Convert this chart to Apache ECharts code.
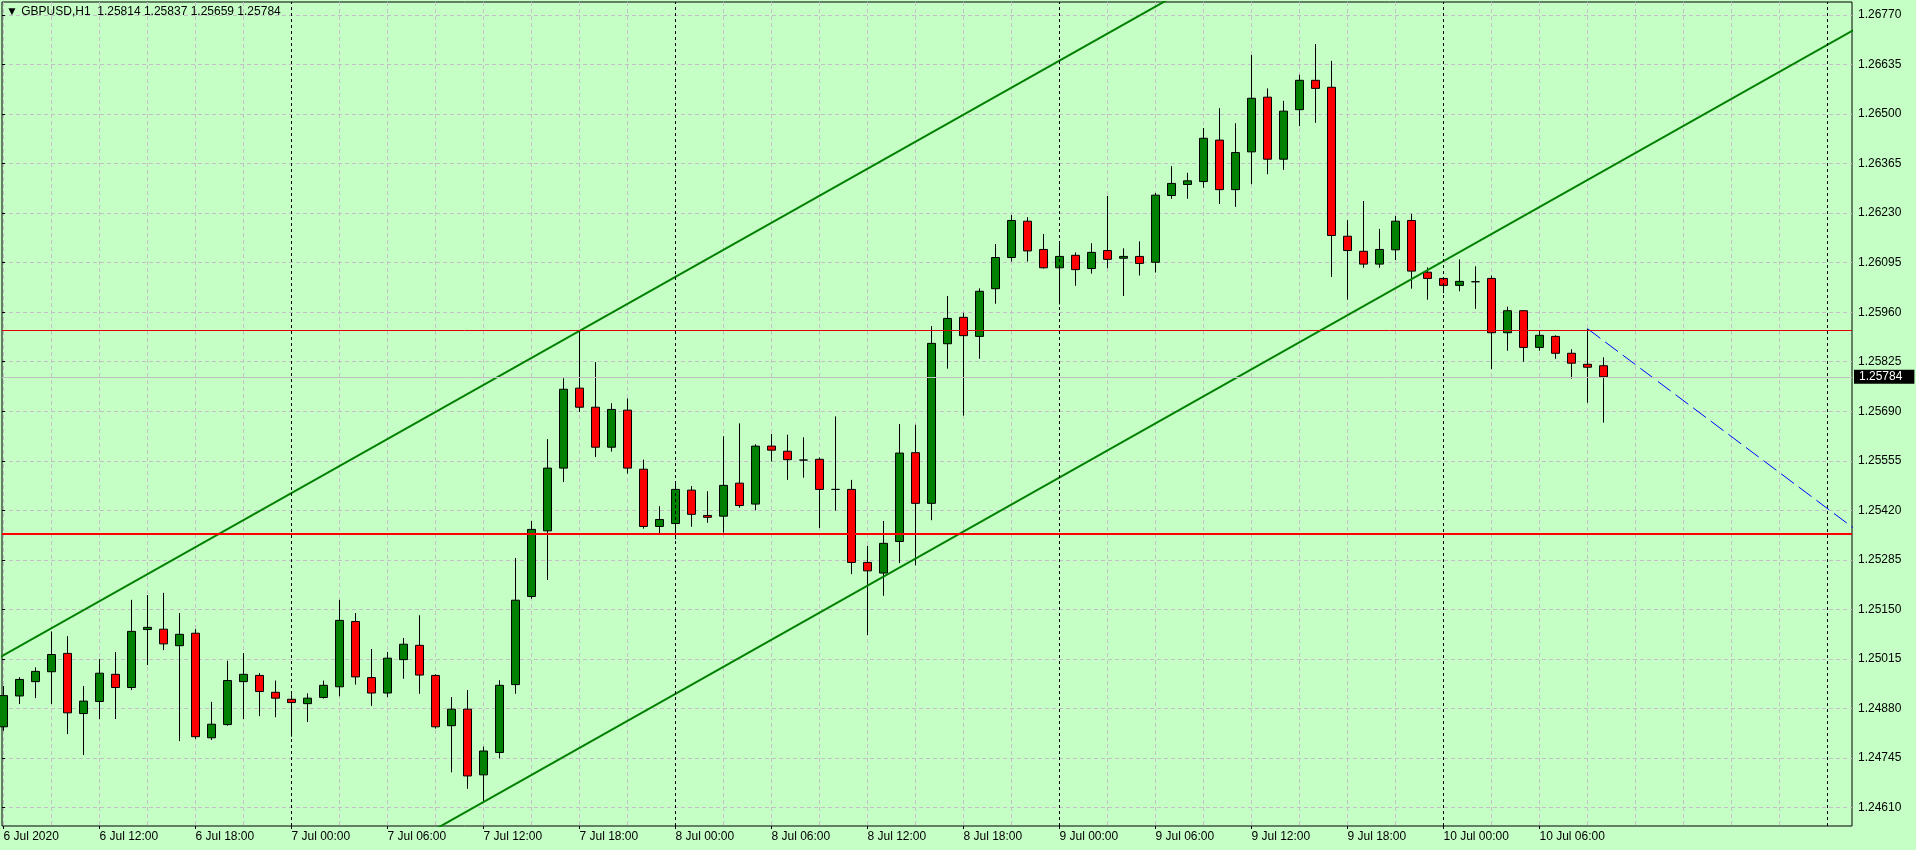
<!DOCTYPE html>
<html>
<head>
<meta charset="utf-8">
<title>GBPUSD,H1</title>
<script src="https://cdn.jsdelivr.net/npm/echarts@6.0.0/dist/echarts.min.js"></script>
<style>
  html, body { margin: 0; padding: 0; background: #c6ffc6; }
  #chart { width: 1916px; height: 850px; }
</style>
</head>
<body>
<div id="chart"></div>
<script>
const symbol = "GBPUSD,H1";

// hourly bars, 6 Jul 2020 06:00 .. 10 Jul 2020 10:00 (bar index 0..100)
const opens = [
  1.24830, 1.24914, 1.24953, 1.24980, 1.25030, 1.24866, 1.24899, 1.24973, 1.24937, 1.25095,
  1.25096, 1.25051, 1.25085, 1.24800, 1.24836, 1.24953, 1.24970, 1.24924, 1.24905, 1.24893,
  1.24910, 1.24939, 1.25117, 1.24964, 1.24922, 1.25013, 1.25052, 1.24970, 1.24833, 1.24878,
  1.24699, 1.24760, 1.24945, 1.25185, 1.25364, 1.25535, 1.25753, 1.25701, 1.25592, 1.25693,
  1.25532, 1.25376, 1.25384, 1.25475, 1.25406, 1.25404, 1.25494, 1.25437, 1.25595, 1.25581,
  1.25557, 1.25559, 1.25477, 1.25477, 1.25278, 1.25249, 1.25335, 1.25577, 1.25439, 1.25874,
  1.25946, 1.25894, 1.26024, 1.26109, 1.26208, 1.26131, 1.26081, 1.26115, 1.26079, 1.26128,
  1.26107, 1.26112, 1.26096, 1.26278, 1.26308, 1.26316, 1.26429, 1.26294, 1.26397, 1.26546,
  1.26377, 1.26512, 1.26592, 1.26573, 1.26167, 1.26126, 1.26091, 1.26130, 1.26210, 1.26069,
  1.26052, 1.26033, 1.26043, 1.26052, 1.25904, 1.25964, 1.25864, 1.25894, 1.25848, 1.25818,
  1.25814
];
const highs = [
  1.24941, 1.24965, 1.24992, 1.25090, 1.25077, 1.24941, 1.25015, 1.25034, 1.25176, 1.25189,
  1.25195, 1.25140, 1.25096, 1.24898, 1.25010, 1.25031, 1.24976, 1.24956, 1.24919, 1.24921,
  1.24956, 1.25176, 1.25140, 1.25042, 1.25034, 1.25072, 1.25134, 1.24973, 1.24911, 1.24930,
  1.24776, 1.24957, 1.25290, 1.25391, 1.25614, 1.25780, 1.25909, 1.25824, 1.25712, 1.25725,
  1.25558, 1.25431, 1.25495, 1.25486, 1.25472, 1.25622, 1.25657, 1.25600, 1.25628, 1.25626,
  1.25619, 1.25564, 1.25676, 1.25503, 1.25323, 1.25391, 1.25655, 1.25653, 1.25922, 1.26004,
  1.25958, 1.26025, 1.26146, 1.26225, 1.26219, 1.26173, 1.26150, 1.26123, 1.26148, 1.26277,
  1.26134, 1.26153, 1.26285, 1.26358, 1.26340, 1.26462, 1.26516, 1.26475, 1.26661, 1.26570,
  1.26536, 1.26607, 1.26691, 1.26645, 1.26211, 1.26263, 1.26187, 1.26222, 1.26228, 1.26082,
  1.26053, 1.26104, 1.26085, 1.26060, 1.25975, 1.25965, 1.25911, 1.25897, 1.25859, 1.25915,
  1.25837
];
const lows = [
  1.24819, 1.24892, 1.24908, 1.24892, 1.24810, 1.24753, 1.24851, 1.24851, 1.24930, 1.24998,
  1.25039, 1.24791, 1.24797, 1.24794, 1.24833, 1.24851, 1.24859, 1.24856, 1.24803, 1.24843,
  1.24907, 1.24913, 1.24945, 1.24887, 1.24911, 1.24961, 1.24920, 1.24825, 1.24706, 1.24661,
  1.24625, 1.24744, 1.24920, 1.25179, 1.25230, 1.25497, 1.25688, 1.25565, 1.25580, 1.25520,
  1.25370, 1.25356, 1.25341, 1.25375, 1.25386, 1.25359, 1.25427, 1.25420, 1.25553, 1.25503,
  1.25509, 1.25372, 1.25419, 1.25246, 1.25080, 1.25187, 1.25276, 1.25270, 1.25393, 1.25806,
  1.25678, 1.25833, 1.25983, 1.26098, 1.26098, 1.26079, 1.25981, 1.26032, 1.26065, 1.26080,
  1.26004, 1.26060, 1.26068, 1.26269, 1.26269, 1.26299, 1.26255, 1.26247, 1.26309, 1.26336,
  1.26348, 1.26467, 1.26476, 1.26056, 1.25994, 1.26081, 1.26081, 1.26102, 1.26024, 1.25994,
  1.26012, 1.26017, 1.25969, 1.25805, 1.25855, 1.25825, 1.25855, 1.25833, 1.25779, 1.25713,
  1.25659
];
const closes = [
  1.24915, 1.24959, 1.24981, 1.25027, 1.24868, 1.24900, 1.24976, 1.24937, 1.25090, 1.25101,
  1.25056, 1.25082, 1.24803, 1.24837, 1.24956, 1.24973, 1.24926, 1.24908, 1.24896, 1.24908,
  1.24943, 1.25120, 1.24966, 1.24922, 1.25017, 1.25055, 1.24971, 1.24830, 1.24878, 1.24696,
  1.24764, 1.24943, 1.25175, 1.25368, 1.25535, 1.25750, 1.25701, 1.25592, 1.25695, 1.25535,
  1.25376, 1.25395, 1.25477, 1.25409, 1.25401, 1.25488, 1.25433, 1.25595, 1.25584, 1.25558,
  1.25557, 1.25477, 1.25477, 1.25278, 1.25255, 1.25330, 1.25576, 1.25439, 1.25875, 1.25943,
  1.25896, 1.26017, 1.26109, 1.26210, 1.26127, 1.26081, 1.26112, 1.26076, 1.26123, 1.26104,
  1.26112, 1.26093, 1.26279, 1.26311, 1.26318, 1.26434, 1.26294, 1.26395, 1.26543, 1.26377,
  1.26508, 1.26592, 1.26570, 1.26169, 1.26128, 1.26091, 1.26131, 1.26208, 1.26072, 1.26052,
  1.26033, 1.26044, 1.26043, 1.25904, 1.25964, 1.25864, 1.25897, 1.25848, 1.25821, 1.25810,
  1.25784
];

// time axis labels, one every 6 bars starting at bar 0
const timeLabels = [
  "6 Jul 2020", "6 Jul 12:00", "6 Jul 18:00", "7 Jul 00:00", "7 Jul 06:00", "7 Jul 12:00",
  "7 Jul 18:00", "8 Jul 00:00", "8 Jul 06:00", "8 Jul 12:00", "8 Jul 18:00", "9 Jul 00:00",
  "9 Jul 06:00", "9 Jul 12:00", "9 Jul 18:00", "10 Jul 00:00", "10 Jul 06:00"
];
const priceLabels = [
  "1.24610", "1.24745", "1.24880", "1.25015", "1.25150", "1.25285", "1.25420", "1.25555", "1.25690",
  "1.25825", "1.25960", "1.26095", "1.26230", "1.26365", "1.26500", "1.26635", "1.26770"
];

// bar index of each 00:00 (period separators)
const daySeparators = [18, 42, 66, 90, 114];

// drawn objects, points as [bar index, price]
const channelUpper = [[0, 1.25025], [36, 1.25909]];
const channelLower = [[30, 1.24625], [100, 1.26345]];
const trendBlue = [[99, 1.25915], [115, 1.25392]];
const levelRed = 1.25355;
const levelRedThin = 1.25910;

// ---- layout
const font = "Liberation Sans, Arial, sans-serif";
const gridColor = "#c6bec6";
const plotLeft = 2, plotTop = 2, plotW = 1850, plotH = 824;
const barPx = 16, firstBarX = 3.5;
const labelTop = 15, labelBottom = 807.5;

const pTop = +priceLabels[priceLabels.length - 1];
const pBottom = +priceLabels[0];
const pStep = Math.round((priceLabels[1] - priceLabels[0]) * 1e5) / 1e5;
const pxPerPrice = (labelBottom - labelTop) / (pTop - pBottom);
const yMax = pTop + (labelTop - plotTop) / pxPerPrice;
const yMin = pBottom - (plotTop + plotH - labelBottom) / pxPerPrice;
const xMin = -(firstBarX - plotLeft) / barPx;
const xMax = xMin + plotW / barPx;

const f5 = v => Number(v).toFixed(5);
const last = closes.length - 1;

const bars = opens.map((o, i) => [i, o, closes[i], lows[i], highs[i]]);

// stretch a line given by two points over [from, to]
function extend(pts, from, to) {
  const [[x1, y1], [x2, y2]] = pts;
  const k = (y2 - y1) / (x2 - x1);
  return [[from, y1 + k * (from - x1)], [to, y1 + k * (to - x1)]];
}

const sepColors = [];
for (let k = 0; k < 8; k++) sepColors.push(k === 6 ? "rgba(0,0,0,0)" : gridColor);

const hidden = { show: false };

const option = {
  animation: false,
  backgroundColor: "#c6ffc6",
  textStyle: { fontFamily: font },
  title: {
    text: "\u25BC " + symbol + "  " + [opens[last], highs[last], lows[last], closes[last]].map(f5).join(" "),
    left: 6,
    top: 6,
    padding: 0,
    textStyle: { fontSize: 12, fontWeight: "normal", color: "#000", fontFamily: font }
  },
  grid: [
    // data
    { left: plotLeft, top: plotTop, width: plotW, height: plotH, show: true,
      borderColor: "#000", borderWidth: 1, backgroundColor: "transparent", outerBoundsMode: "none" },
    // price labels + horizontal grid
    { left: plotLeft, top: labelTop, width: plotW, height: labelBottom - labelTop, outerBoundsMode: "none" },
    // vertical grid, every 3 bars
    { left: firstBarX, top: plotTop, width: barPx * 114, height: plotH, outerBoundsMode: "none" },
    // time labels, every 6 bars
    { left: firstBarX, top: plotTop, width: barPx * 96, height: plotH, outerBoundsMode: "none" }
  ],
  xAxis: [
    { gridIndex: 0, type: "value", min: xMin, max: xMax, show: false },
    { gridIndex: 1, type: "value", min: 0, max: 1, show: false },
    {
      gridIndex: 2, type: "value", min: 0, max: 114, interval: 3, position: "top",
      axisLine: hidden, axisTick: hidden, axisLabel: hidden,
      splitLine: { show: true, lineStyle: { color: sepColors, type: [4, 3], width: 1 } }
    },
    {
      gridIndex: 3, type: "value", min: 0, max: 96, interval: 6, position: "bottom",
      axisLine: hidden,
      axisTick: { show: true, length: 3, lineStyle: { color: "#000" } },
      splitLine: hidden,
      axisLabel: {
        show: true, color: "#000", fontSize: 12, fontFamily: font, margin: 5, align: "left",
        showMinLabel: true, showMaxLabel: true,
        formatter: v => timeLabels[Math.round(v / 6)] || ""
      }
    }
  ],
  yAxis: [
    { gridIndex: 0, type: "value", min: yMin, max: yMax, show: false },
    {
      gridIndex: 1, type: "value", position: "right", min: pBottom, max: pTop, interval: pStep,
      axisLine: hidden,
      axisTick: { show: true, length: 3, lineStyle: { color: "#000" } },
      axisLabel: {
        show: true, color: "#000", fontSize: 12, fontFamily: font, margin: 6,
        showMinLabel: true, showMaxLabel: true, formatter: v => f5(v)
      },
      splitLine: { show: true, lineStyle: { color: gridColor, type: [4, 3], width: 1 } }
    },
    { gridIndex: 2, type: "value", min: 0, max: 1, show: false },
    { gridIndex: 3, type: "value", min: 0, max: 1, show: false }
  ],
  series: [
    {
      type: "candlestick",
      xAxisIndex: 0,
      yAxisIndex: 0,
      data: bars,
      encode: { x: 0, y: [1, 2, 3, 4] },
      barWidth: 9,
      silent: true,
      itemStyle: {
        color: "#008000",
        color0: "#ff0000",
        borderColor: "#000",
        borderColor0: "#000",
        borderColorDoji: "#000",
        borderWidth: 1
      },
      markLine: {
        silent: true,
        precision: 5,
        symbol: ["none", "none"],
        label: { show: false },
        data: [
          { yAxis: levelRed, lineStyle: { color: "#ff0000", width: 2, type: "solid" } },
          { yAxis: levelRedThin, lineStyle: { color: "#e00000", width: 1, type: "solid" } },
          {
            yAxis: closes[last],
            lineStyle: { color: "#c0c0c0", width: 1, type: "solid" },
            label: {
              show: true, position: "end", distance: 2,
              formatter: p => f5(p.value),
              color: "#fff", backgroundColor: "#000",
              fontSize: 12, fontFamily: font, padding: [1, 12, 1, 5]
            }
          }
        ].concat(daySeparators.map(d => ({
          xAxis: d, lineStyle: { color: "#000", width: 1, type: [3, 3] }
        })))
      }
    },
    {
      type: "line", xAxisIndex: 0, yAxisIndex: 0, z: 4, silent: true,
      symbol: "none", data: extend(channelUpper, -1, 117),
      lineStyle: { color: "#008000", width: 2 }
    },
    {
      type: "line", xAxisIndex: 0, yAxisIndex: 0, z: 4, silent: true,
      symbol: "none", data: extend(channelLower, -1, 117),
      lineStyle: { color: "#008000", width: 2 }
    },
    {
      type: "line", xAxisIndex: 0, yAxisIndex: 0, z: 4, silent: true,
      symbol: "none", data: extend(trendBlue, trendBlue[0][0], 117),
      lineStyle: { color: "#0000ff", width: 1, type: [16, 6] }
    }
  ]
};

const chart = echarts.init(document.getElementById("chart"));
chart.setOption(option);
window.addEventListener("resize", () => chart.resize());
</script>
</body>
</html>
